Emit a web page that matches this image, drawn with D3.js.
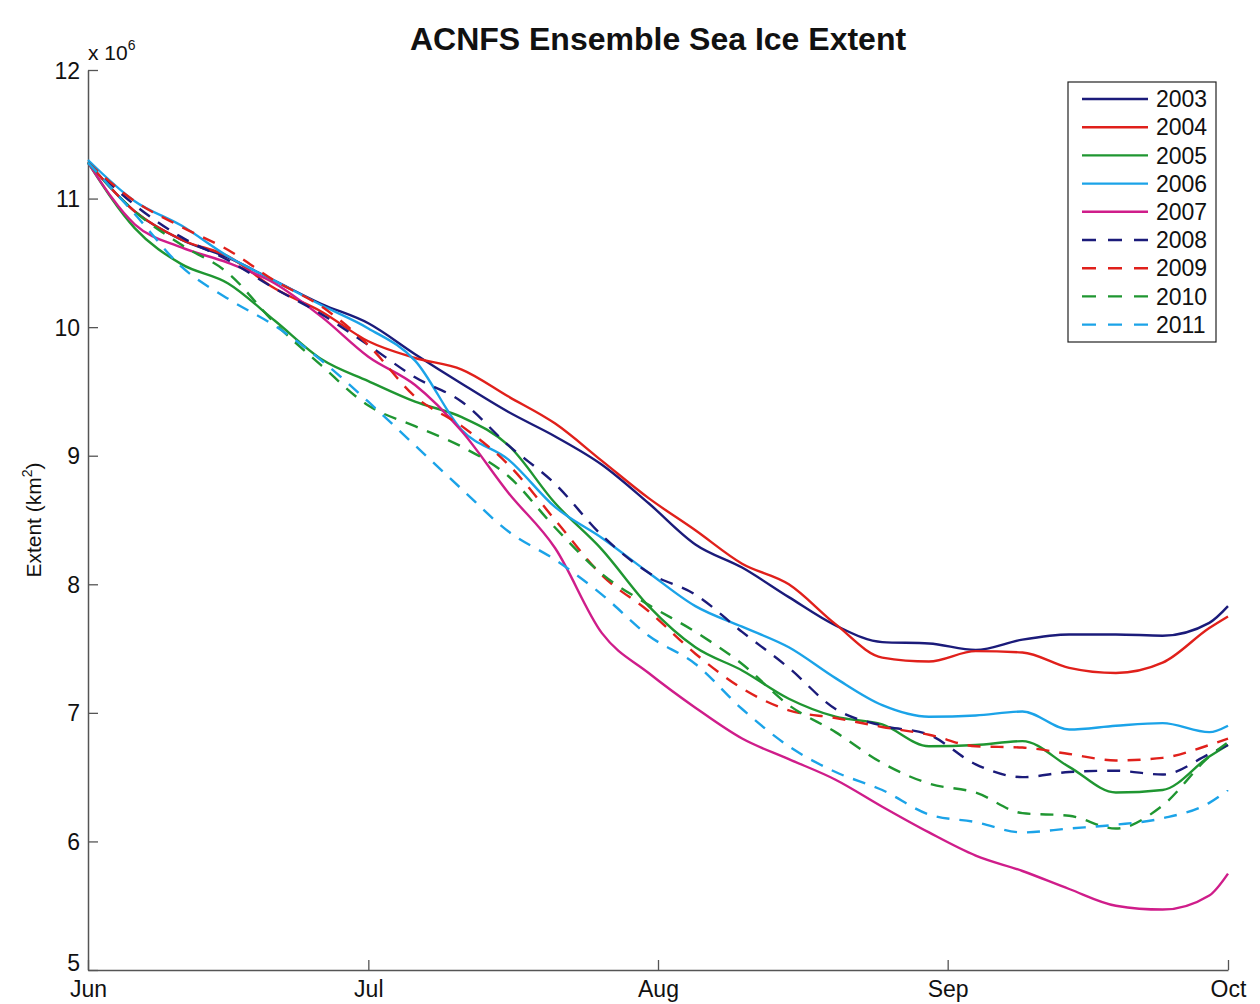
<!DOCTYPE html>
<html>
<head>
<meta charset="utf-8">
<script src="https://cdn.jsdelivr.net/npm/d3@7"></script>
<style>
  body { margin: 0; background: #fff; }
  svg { display: block; font-family: "Liberation Sans", Arial, sans-serif; }
</style>
</head>
<body>
<svg id="chart"></svg>
<script>
// day offsets from 1 June
const days = [0, 5, 10, 15, 20, 25, 30, 35, 40, 45, 50, 55, 60, 65, 70, 75, 80, 85, 90, 95, 100, 105, 110, 115, 120, 122];

// extent in millions of km2
const y2003 = [11.28, 10.9, 10.68, 10.54, 10.36, 10.18, 10.03, 9.79, 9.56, 9.34, 9.15, 8.93, 8.63, 8.31, 8.13, 7.9, 7.68, 7.55, 7.54, 7.49, 7.57, 7.61, 7.61, 7.6, 7.7, 7.83];
const y2004 = [11.28, 10.9, 10.68, 10.55, 10.3, 10.12, 9.89, 9.76, 9.67, 9.46, 9.25, 8.96, 8.67, 8.42, 8.16, 8.0, 7.69, 7.43, 7.4, 7.48, 7.47, 7.35, 7.31, 7.39, 7.66, 7.75];
const y2005 = [11.28, 10.77, 10.49, 10.34, 10.05, 9.75, 9.58, 9.42, 9.3, 9.08, 8.63, 8.27, 7.83, 7.51, 7.33, 7.11, 6.97, 6.91, 6.74, 6.75, 6.78, 6.58, 6.38, 6.4, 6.66, 6.75];
const y2006 = [11.3, 10.98, 10.79, 10.55, 10.36, 10.17, 9.99, 9.74, 9.2, 8.97, 8.6, 8.36, 8.09, 7.83, 7.67, 7.51, 7.27, 7.06, 6.97, 6.98, 7.01, 6.87, 6.9, 6.92, 6.85, 6.9];
const y2007 = [11.28, 10.8, 10.62, 10.5, 10.34, 10.08, 9.77, 9.55, 9.19, 8.71, 8.28, 7.62, 7.31, 7.04, 6.8, 6.64, 6.48, 6.27, 6.07, 5.89, 5.77, 5.63, 5.5, 5.47, 5.58, 5.75];
const y2008 = [11.28, 10.95, 10.7, 10.52, 10.3, 10.1, 9.86, 9.61, 9.42, 9.08, 8.78, 8.38, 8.09, 7.92, 7.63, 7.35, 7.03, 6.9, 6.83, 6.6, 6.5, 6.54, 6.55, 6.52, 6.68, 6.75];
const y2009 = [11.28, 10.98, 10.78, 10.6, 10.36, 10.16, 9.86, 9.46, 9.23, 8.93, 8.5, 8.07, 7.79, 7.46, 7.19, 7.02, 6.96, 6.89, 6.83, 6.74, 6.73, 6.68, 6.63, 6.65, 6.75, 6.8];
const y2010 = [11.28, 10.9, 10.64, 10.42, 10.03, 9.7, 9.39, 9.23, 9.07, 8.84, 8.44, 8.08, 7.84, 7.63, 7.38, 7.06, 6.85, 6.61, 6.45, 6.38, 6.22, 6.2, 6.1, 6.28, 6.66, 6.77];
const y2011 = [11.28, 10.88, 10.47, 10.22, 10.01, 9.74, 9.42, 9.08, 8.74, 8.41, 8.19, 7.92, 7.6, 7.38, 7.03, 6.74, 6.54, 6.4, 6.21, 6.15, 6.07, 6.1, 6.13, 6.18, 6.3, 6.4];

const years = ["2003", "2004", "2005", "2006", "2007", "2008", "2009", "2010", "2011"];
const values = [y2003, y2004, y2005, y2006, y2007, y2008, y2009, y2010, y2011];
const colors = ["#1b1b7a", "#e0201b", "#1f9631", "#1ba3e8", "#cf1d8a", "#1b1b7a", "#e0201b", "#1f9631", "#1ba3e8"];
const dashed = [false, false, false, false, false, true, true, true, true];

const monthTicks = [0, 30, 61, 92, 122];
const monthLabels = ["Jun", "Jul", "Aug", "Sep", "Oct"];
const yTicks = [5, 6, 7, 8, 9, 10, 11, 12];

const width = 1260, height = 1004;
const margin = {top: 70, right: 32, bottom: 34, left: 88};
const innerW = width - margin.left - margin.right;
const innerH = height - margin.top - margin.bottom;

const svg = d3.select("#chart")
    .attr("width", width)
    .attr("height", height);

svg.append("rect").attr("width", width).attr("height", height).attr("fill", "#fff");

const g = svg.append("g")
    .attr("transform", "translate(" + margin.left + "," + margin.top + ")");

const x = d3.scaleLinear().domain([0, 122]).range([0, innerW]);
const y = d3.scaleLinear().domain([5, 12]).range([innerH, 0]);

// axes, ticks pointing inward
const xAxis = d3.axisBottom(x)
    .tickValues(monthTicks)
    .tickFormat((d, i) => monthLabels[i])
    .tickSizeInner(-10)
    .tickSizeOuter(0)
    .tickPadding(15);

const yAxis = d3.axisLeft(y)
    .tickValues(yTicks)
    .tickFormat(d3.format("d"))
    .tickSizeInner(-10)
    .tickSizeOuter(0)
    .tickPadding(8);

const gx = g.append("g")
    .attr("transform", "translate(0," + innerH + ")")
    .call(xAxis);

const gy = g.append("g").call(yAxis);

[gx, gy].forEach(a => {
    a.select(".domain").attr("stroke", "#555").attr("stroke-width", 1.5);
    a.selectAll(".tick line").attr("stroke", "#555").attr("stroke-width", 1.3);
    a.selectAll(".tick text")
        .attr("fill", "#111")
        .style("font-size", "23px")
        .style("font-family", "Liberation Sans, Arial, sans-serif");
});
gx.selectAll(".tick text").attr("dy", "0.5em");
// lowest label sits just above "Jun", as in the original
gy.selectAll(".tick text").attr("dy", d => d === 5 ? "0em" : "0.35em");

// exponent label
const expo = svg.append("text")
    .attr("x", margin.left)
    .attr("y", 60)
    .attr("fill", "#111")
    .style("font-size", "21px");
expo.append("tspan").text("x 10");
expo.append("tspan").attr("dy", -10).style("font-size", "14px").text("6");

// y axis title
const ylab = svg.append("text")
    .attr("transform", "translate(41," + (margin.top + innerH / 2) + ") rotate(-90)")
    .attr("text-anchor", "middle")
    .attr("fill", "#111")
    .style("font-size", "21px");
ylab.append("tspan").text("Extent (km");
ylab.append("tspan").attr("dy", -9).style("font-size", "14px").text("2");
ylab.append("tspan").attr("dy", 9).text(")");

// title
svg.append("text")
    .attr("x", 658)
    .attr("y", 50)
    .attr("text-anchor", "middle")
    .attr("fill", "#111")
    .style("font-size", "32px")
    .style("font-weight", "bold")
    .text("ACNFS Ensemble Sea Ice Extent");

// lines
const line = d3.line()
    .x((d, i) => x(days[i]))
    .y(d => y(d))
    .curve(d3.curveMonotoneX);

g.selectAll(".series")
    .data(values)
    .enter()
    .append("path")
    .attr("class", "series")
    .attr("fill", "none")
    .attr("stroke", (d, i) => colors[i])
    .attr("stroke-width", 2.4)
    .attr("stroke-linejoin", "round")
    .attr("stroke-dasharray", (d, i) => dashed[i] ? "13,10" : null)
    .attr("d", line);

// legend
const legend = svg.append("g").attr("transform", "translate(1068,82)");
legend.append("rect")
    .attr("width", 148)
    .attr("height", 260)
    .attr("fill", "#fff")
    .attr("stroke", "#222")
    .attr("stroke-width", 1.2);

const item = legend.selectAll(".item")
    .data(years)
    .enter()
    .append("g")
    .attr("class", "item")
    .attr("transform", (d, i) => "translate(0," + (17 + i * 28.2) + ")");

item.append("line")
    .attr("x1", 14).attr("x2", 80)
    .attr("stroke", (d, i) => colors[i])
    .attr("stroke-width", 2.4)
    .attr("stroke-dasharray", (d, i) => dashed[i] ? "14,12" : null);

item.append("text")
    .attr("x", 88)
    .attr("dy", "0.36em")
    .attr("fill", "#111")
    .style("font-size", "23px")
    .text(d => d);
</script>
</body>
</html>
